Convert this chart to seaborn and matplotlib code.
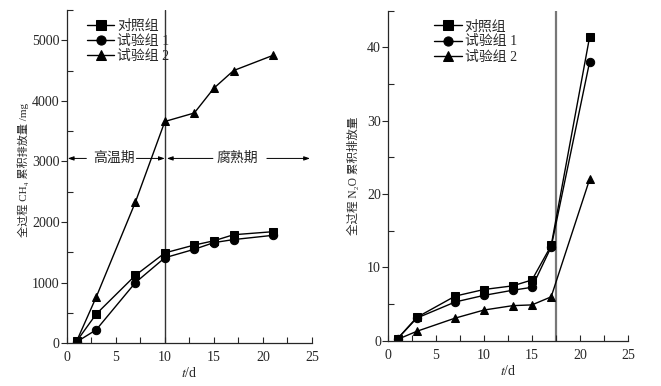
import pandas as pd
import matplotlib.pyplot as plt
import numpy as np
import seaborn as sns
from matplotlib.ticker import MultipleLocator

days = [1, 3, 7, 10, 13, 15, 17, 21]
groups = ['对照组', '试验组 1', '试验组 2']

ch4_ctrl = [30, 480, 1120, 1490, 1620, 1690, 1790, 1840]
ch4_t1 = [20, 220, 1000, 1410, 1550, 1660, 1710, 1780]
ch4_t2 = [30, 760, 2330, 3660, 3800, 4210, 4500, 4750]

n2o_ctrl = [0.3, 3.2, 6.1, 7.0, 7.5, 8.3, 13.0, 41.4]
n2o_t1 = [0.3, 3.1, 5.3, 6.2, 6.9, 7.3, 12.8, 38.0]
n2o_t2 = [0.2, 1.3, 3.1, 4.2, 4.8, 4.9, 6.0, 22.0]

sns.set_style('ticks')
plt.rcParams['font.family'] = ['Liberation Serif', 'Noto Sans CJK SC']
plt.rcParams['mathtext.fontset'] = 'stix'


def long_df(a, b, c):
    rows = []
    for g, vals in zip(groups, [a, b, c]):
        for d, v in zip(days, vals):
            rows.append({'t': d, 'v': v, 'g': g})
    return pd.DataFrame(rows)


def style_axes(ax, ymax, ymaj, ymin, legx):
    sns.despine(ax=ax)
    ax.set_xlim(0, 25)
    ax.set_ylim(0, ymax)
    ax.xaxis.set_major_locator(MultipleLocator(5))
    ax.xaxis.set_minor_locator(MultipleLocator(2.5))
    ax.yaxis.set_major_locator(MultipleLocator(ymaj))
    ax.yaxis.set_minor_locator(MultipleLocator(ymin))
    ax.tick_params(axis='x', which='both', direction='in', length=4, width=0.8, labelsize=10, pad=6)
    ax.tick_params(axis='y', which='major', direction='out', length=4, width=0.8, labelsize=10, pad=1)
    ax.tick_params(axis='y', which='minor', direction='in', length=4, width=0.8)
    for s in ax.spines.values():
        s.set_linewidth(0.9)
    ax.set_xlabel('$t$/d', fontsize=10, labelpad=1)
    ax.legend(frameon=False, loc='upper left', bbox_to_anchor=(legx, 1.01),
              fontsize=10, handlelength=2.0, labelspacing=0.15, handletextpad=0.2,
              markerscale=1.1)


fig = plt.figure(figsize=(6.61, 3.86), dpi=100)
ax1 = fig.add_axes([0.101, 0.111, 0.371, 0.863])
ax2 = fig.add_axes([0.587, 0.117, 0.363, 0.855])

kw = dict(x='t', y='v', hue='g', style='g', markers=['s', 'o', '^'], dashes=False,
          palette=['black'] * 3, markersize=6, linewidth=1, markeredgecolor='black')

sns.lineplot(data=long_df(ch4_ctrl, ch4_t1, ch4_t2), ax=ax1, **kw)
ax1.axvline(10, color='#333333', linewidth=1, zorder=0)
style_axes(ax1, 5500, 1000, 500, 0.03)
ax1.set_ylabel('全过程 CH₄ 累积排放量 /mg', fontsize=8)
ax1.yaxis.set_label_coords(-0.155, 0.52)

arrow = dict(arrowstyle='-|>,head_length=0.35,head_width=0.12', color='black', lw=0.7,
             shrinkA=0, shrinkB=0)
ax1.annotate('', xy=(0.1, 3050), xytext=(2.0, 3050), arrowprops=arrow)
ax1.annotate('', xy=(10, 3050), xytext=(7.1, 3050), arrowprops=arrow)
ax1.annotate('', xy=(10.2, 3050), xytext=(14.9, 3050), arrowprops=arrow)
ax1.annotate('', xy=(24.8, 3050), xytext=(20.4, 3050), arrowprops=arrow)
ax1.text(4.8, 3050, '高温期', ha='center', va='center', fontsize=10)
ax1.text(17.4, 3050, '腐熟期', ha='center', va='center', fontsize=10)

sns.lineplot(data=long_df(n2o_ctrl, n2o_t1, n2o_t2), ax=ax2, **kw)
ax2.axvline(17.5, color='#777777', linewidth=1.6, zorder=0)
style_axes(ax2, 45, 10, 5, 0.14)
ax2.set_ylabel('全过程 N₂O 累积排放量', fontsize=8.3)
ax2.yaxis.set_label_coords(-0.115, 0.5)

fig.savefig('out.png', dpi=100)
